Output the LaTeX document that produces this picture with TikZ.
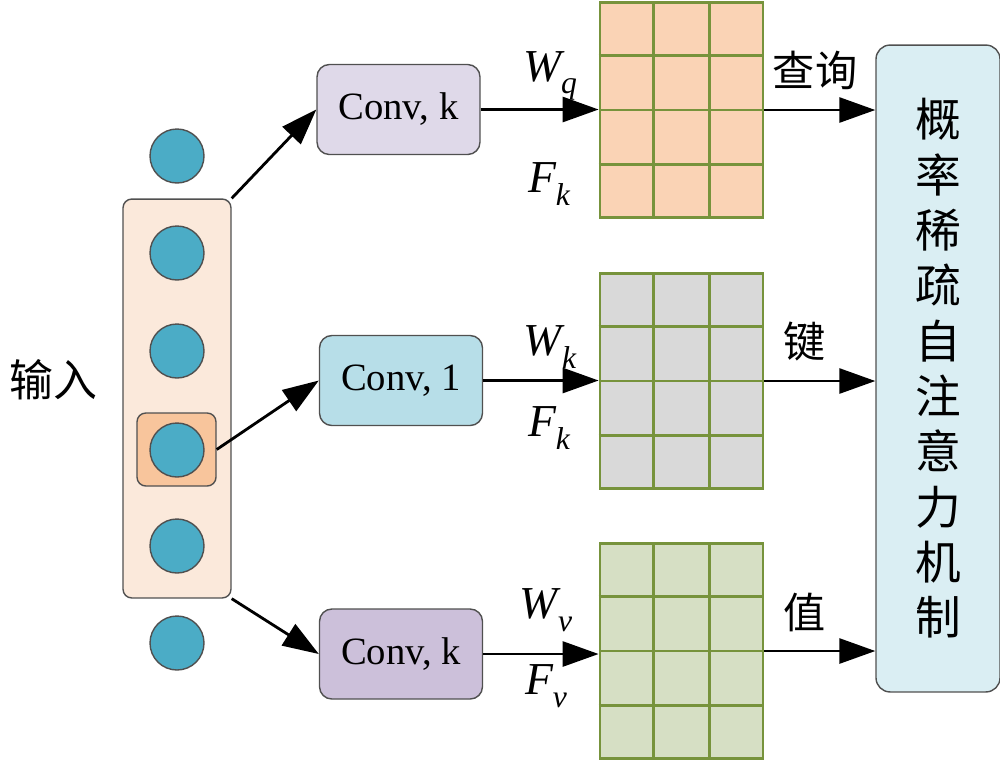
\documentclass[tikz,border=0pt]{standalone}
\usepackage{fontspec}
\setmainfont{Liberation Serif}
\newfontfamily\cjk{Noto Sans CJK SC}
\usetikzlibrary{arrows.meta,positioning,calc}
\definecolor{Peach}{HTML}{FBE9DB}
\definecolor{Orange}{HTML}{F8C59C}
\definecolor{Teal}{HTML}{4BACC6}
\definecolor{Lilac}{HTML}{DFD9E9}
\definecolor{Sky}{HTML}{B7DEE8}
\definecolor{Mauve}{HTML}{CCC0DA}
\definecolor{Olive}{HTML}{77933C}
\definecolor{Ice}{HTML}{DAEEF3}
\definecolor{Edge}{HTML}{505050}
\tikzset{
  unit/.style={circle,draw=Edge,fill=Teal,line width=.8pt,minimum size=1.08cm,inner sep=0pt},
  panel/.style={rounded corners=5pt,draw=Edge,line width=.8pt,inner sep=0pt},
  convbox/.style={rounded corners=7pt,draw=Edge,line width=.8pt,minimum width=3.26cm,
    minimum height=1.8cm,font=\fontsize{22}{26}\selectfont},
  feat/.style={draw=Olive,line width=1.6pt,minimum width=3.26cm,minimum height=4.3cm,inner sep=0pt},
  arrow/.style={-{Triangle[length=.72cm,width=.5cm]},line width=1.6pt},
  sym/.style={font=\fontsize{26}{30}\selectfont\itshape},
  cn/.style={font=\cjk\fontsize{24}{28}\selectfont}
}
\newcommand{\wsub}[2]{#1\kern0pt\raisebox{-.6ex}{\fontsize{18}{20}\selectfont #2}}

\begin{document}
\begin{tikzpicture}[x=.02cm,y=-.02cm]
  \useasboundingbox (0,0) rectangle (1000,762);
  % input sequence
  \node[panel,fill=Peach,minimum width=2.16cm,minimum height=7.98cm] (seq) at (177,398.5) {};
  \node[panel,fill=Orange,minimum width=1.58cm,minimum height=1.46cm] (cur) at (176.5,449.5) {};
  \foreach \i/\y in {1/156,2/253,3/351,4/450,5/546,6/643}
    \node[unit] (u\i) at (177,\y) {};
  \node[cn,font=\cjk\fontsize{25}{28}\selectfont] (in) at (53,380) {输入};

  % convolutions
  \node[convbox,fill=Lilac] (cq) at (398.5,109.5) {Conv, k};
  \node[convbox,fill=Sky] (ck) at (401,380.5) {Conv, 1};
  \node[convbox,fill=Mauve] (cv) at (401,654) {Conv, k};
  \draw[arrow] (seq.north east) -- (cq.west);
  \draw[arrow] (cur.east) -- (ck.west);
  \draw[arrow] (seq.south east) -- (cv.west);

  % feature maps
  \node[feat,fill=Orange!75] (fq) at (681.5,110) {};
  \node[feat,fill=black!15] (fk) at (681.5,381) {};
  \node[feat,fill=Olive!30] (fv) at (681.5,651) {};
  \foreach \f in {fq,fk,fv} {
    \foreach \t in {1,2}
      \draw[Olive,line width=1.6pt] ($(\f.north west)!\t/3!(\f.north east)$) -- ($(\f.south west)!\t/3!(\f.south east)$);
    \foreach \t in {1,2,3}
      \draw[Olive,line width=1.6pt] ($(\f.north west)!\t/4!(\f.south west)$) -- ($(\f.north east)!\t/4!(\f.south east)$);
  }
  \draw[arrow] (cq.east) -- (cq.east -| fq.west);
  \draw[arrow] (ck.east) -- (ck.east -| fk.west);
  \draw[arrow] (cv.east) -- (cv.east -| fv.west);
  \node[sym] (wq) at (550,76) {\wsub{W}{q}};
  \node[sym] (fk1) at (549,184) {\wsub{F}{k}};
  \node[sym] (wk) at (550,347) {\wsub{W}{k}};
  \node[sym] (fk2) at (549,428) {\wsub{F}{k}};
  \node[sym] (wv) at (546,610) {\wsub{W}{v}};
  \node[sym] (fv1) at (546,686) {\wsub{F}{v}};

  % attention block
  \node[panel,rounded corners=8pt,fill=Ice,minimum width=2.48cm,minimum height=12.94cm,
    align=center,font=\cjk\fontsize{26}{31.5}\selectfont] (att) at (938,368.5)
    {概\\率\\稀\\疏\\自\\注\\意\\力\\机\\制};
  \draw[arrow] (fq.east) -- (fq.east -| att.west);
  \draw[arrow] (fk.east) -- (fk.east -| att.west);
  \draw[arrow] (fv.east) -- (fv.east -| att.west);
  \node[cn] (q) at (815,70) {查询};
  \node[cn] (k) at (805,342) {键};
  \node[cn] (v) at (805,612) {值};
\end{tikzpicture}
\end{document}
